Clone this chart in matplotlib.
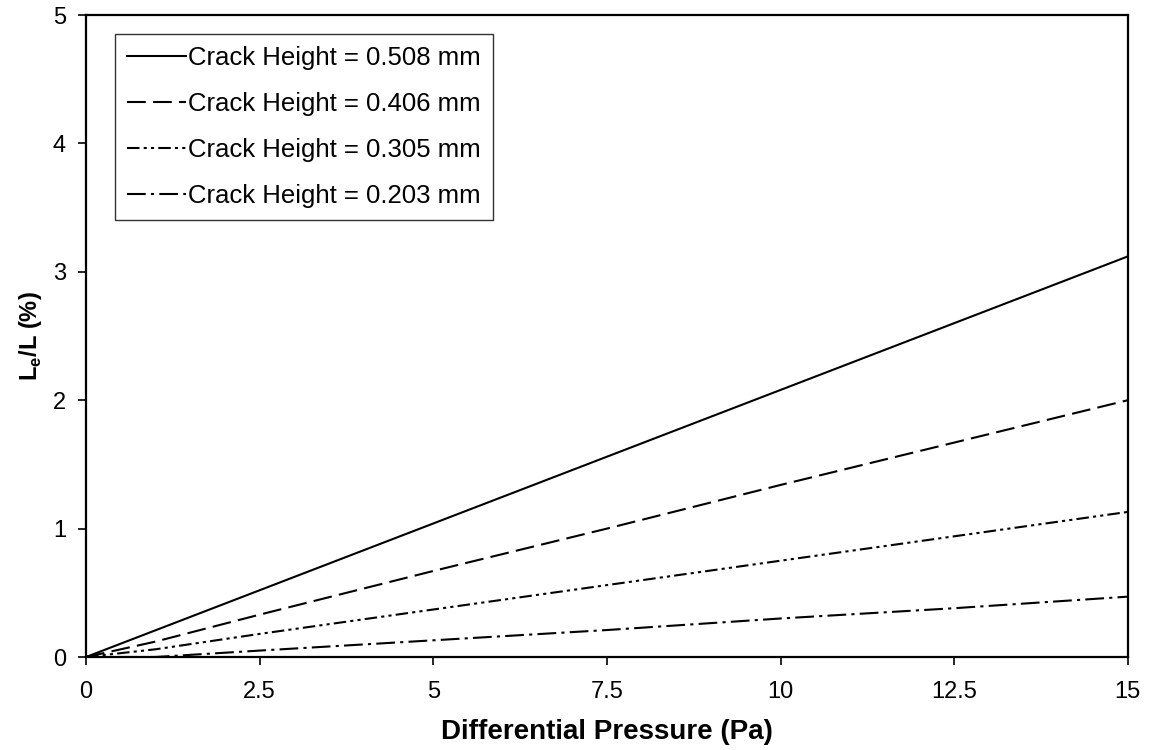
import matplotlib
matplotlib.use("Agg")
import matplotlib.pyplot as plt

plt.rcParams['font.family'] = ['Liberation Sans', 'DejaVu Sans']
plt.rcParams['mathtext.fontset'] = 'custom'
plt.rcParams['mathtext.rm'] = 'Liberation Sans:bold'
plt.rcParams['mathtext.bf'] = 'Liberation Sans:bold'

# Pressao diferencial (Pa)
pressao = [0, 1, 2.5, 5, 7.5, 10, 12.5, 15]

# Le/L (%) para cada altura de fissura
h_0508 = [0, 0.208, 0.52, 1.04, 1.56, 2.08, 2.60, 3.12]
h_0406 = [0, 0.12, 0.33, 0.67, 1.00, 1.34, 1.67, 2.00]
h_0305 = [0, 0.06, 0.18, 0.37, 0.56, 0.75, 0.94, 1.13]
h_0203 = [0, 0.00, 0.05, 0.13, 0.21, 0.30, 0.38, 0.47]

rotulos = ['Crack Height = 0.508 mm', 'Crack Height = 0.406 mm',
           'Crack Height = 0.305 mm', 'Crack Height = 0.203 mm']
estilos = ['-', (0, (9, 3.5)), (0, (6, 2, 1.5, 2, 1.5, 2)), (0, (9, 2.5, 1.5, 2.5))]

fig = plt.figure(figsize=(11.55, 7.5), dpi=100)
ax = fig.add_axes([0.0745, 0.124, 0.902, 0.856])

for serie, rot, ls in zip([h_0508, h_0406, h_0305, h_0203], rotulos, estilos):
    ax.plot(pressao, serie, color='black', lw=1.5, linestyle=ls, label=rot)

ax.set_xlim(0, 15)
ax.set_ylim(0, 5)
ax.set_xticks([0, 2.5, 5, 7.5, 10, 12.5, 15])
ax.set_xticklabels(['0', '2.5', '5', '7.5', '10', '12.5', '15'])
ax.set_yticks([0, 1, 2, 3, 4, 5])
ax.tick_params(direction='out', length=5.5, width=1.2, labelsize=17)
ax.tick_params(axis='x', pad=12)
ax.tick_params(axis='y', pad=9)
for s in ax.spines.values():
    s.set_linewidth(1.6)

ax.set_xlabel('Differential Pressure (Pa)', fontsize=20, fontweight='bold', labelpad=11)
ax.set_ylabel(r'L$_{\mathbf{e}}$/L (%)', fontsize=17, fontweight='bold', labelpad=6)

leg = ax.legend(loc='upper left', fontsize=18.5, frameon=True, fancybox=False,
                edgecolor='black', handlelength=2.3, handletextpad=0.1,
                labelspacing=0.86, borderpad=0.45, borderaxespad=0,
                bbox_to_anchor=(0.028, 0.970))
leg.get_frame().set_linewidth(1.0)

plt.savefig("out.png", dpi=100)
